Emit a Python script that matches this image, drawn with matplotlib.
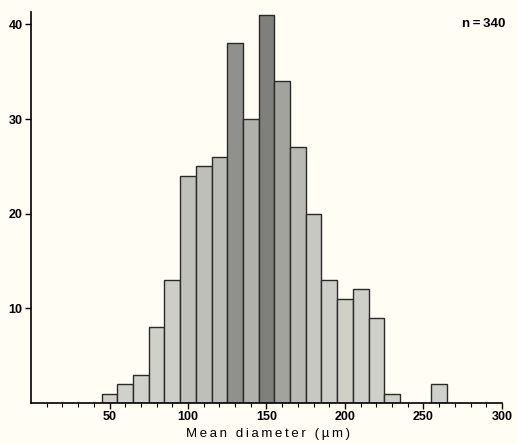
import numpy as np
import matplotlib
matplotlib.use("Agg")
import matplotlib.pyplot as plt

# bin edges (µm) and counts per bin
bin_left = [45, 55, 65, 75, 85, 95, 105, 115, 125, 135, 145, 155, 165, 175, 185, 195, 205, 215, 225, 255]
counts = [1, 2, 3, 8, 13, 24, 25, 26, 38, 30, 41, 34, 27, 20, 13, 11, 12, 9, 1, 2]
bin_width = 10
xticks = [50, 100, 150, 200, 250, 300]
yticks = [10, 20, 30, 40]

plt.rcParams['font.family'] = ['Liberation Sans', 'DejaVu Sans']

bg = '#fffdf4'
fig = plt.figure(figsize=(5.17, 4.44), dpi=100, facecolor=bg)
ax = fig.add_axes([0.06, 0.092, 0.917, 0.881], facecolor=bg)

# darker shade for taller bars (as in the scanned print)
shade = [0.82 - 0.32 * (c / max(counts)) ** 3 for c in counts]
colors = [(s, s, s * 0.97) for s in shade]

ax.bar(bin_left, counts, width=bin_width, align='edge', color=colors,
       edgecolor='#2a2a2a', linewidth=1.0)

ax.set_xlim(0, 302)
ax.set_ylim(0, 41.3)
ax.spines['top'].set_visible(False)
ax.spines['right'].set_visible(False)
ax.spines['bottom'].set_bounds(0, 300)
ax.spines['left'].set_linewidth(1.2)
ax.spines['bottom'].set_linewidth(1.2)

ax.set_xticks(xticks)
ax.set_xticks(np.arange(10, 300, 10), minor=True)
ax.set_yticks(yticks)
ax.tick_params(axis='both', which='major', length=4, width=1.0, labelsize=9, pad=2)
ax.tick_params(axis='x', which='minor', length=3, width=0.8)
for lab in ax.get_xticklabels() + ax.get_yticklabels():
    lab.set_fontweight('bold')

label = '\u2009'.join('Mean diameter') + '\u2009\u2009 ' + '\u2009'.join('(µm)')
ax.set_xlabel(label, fontsize=9.5, labelpad=3)
ax.text(1.0, 0.985, 'n\u2009=\u2009340', transform=ax.transAxes, ha='right', va='top',
        fontsize=9.5, fontweight='bold')

fig.savefig('out.png', dpi=100, facecolor=bg)
